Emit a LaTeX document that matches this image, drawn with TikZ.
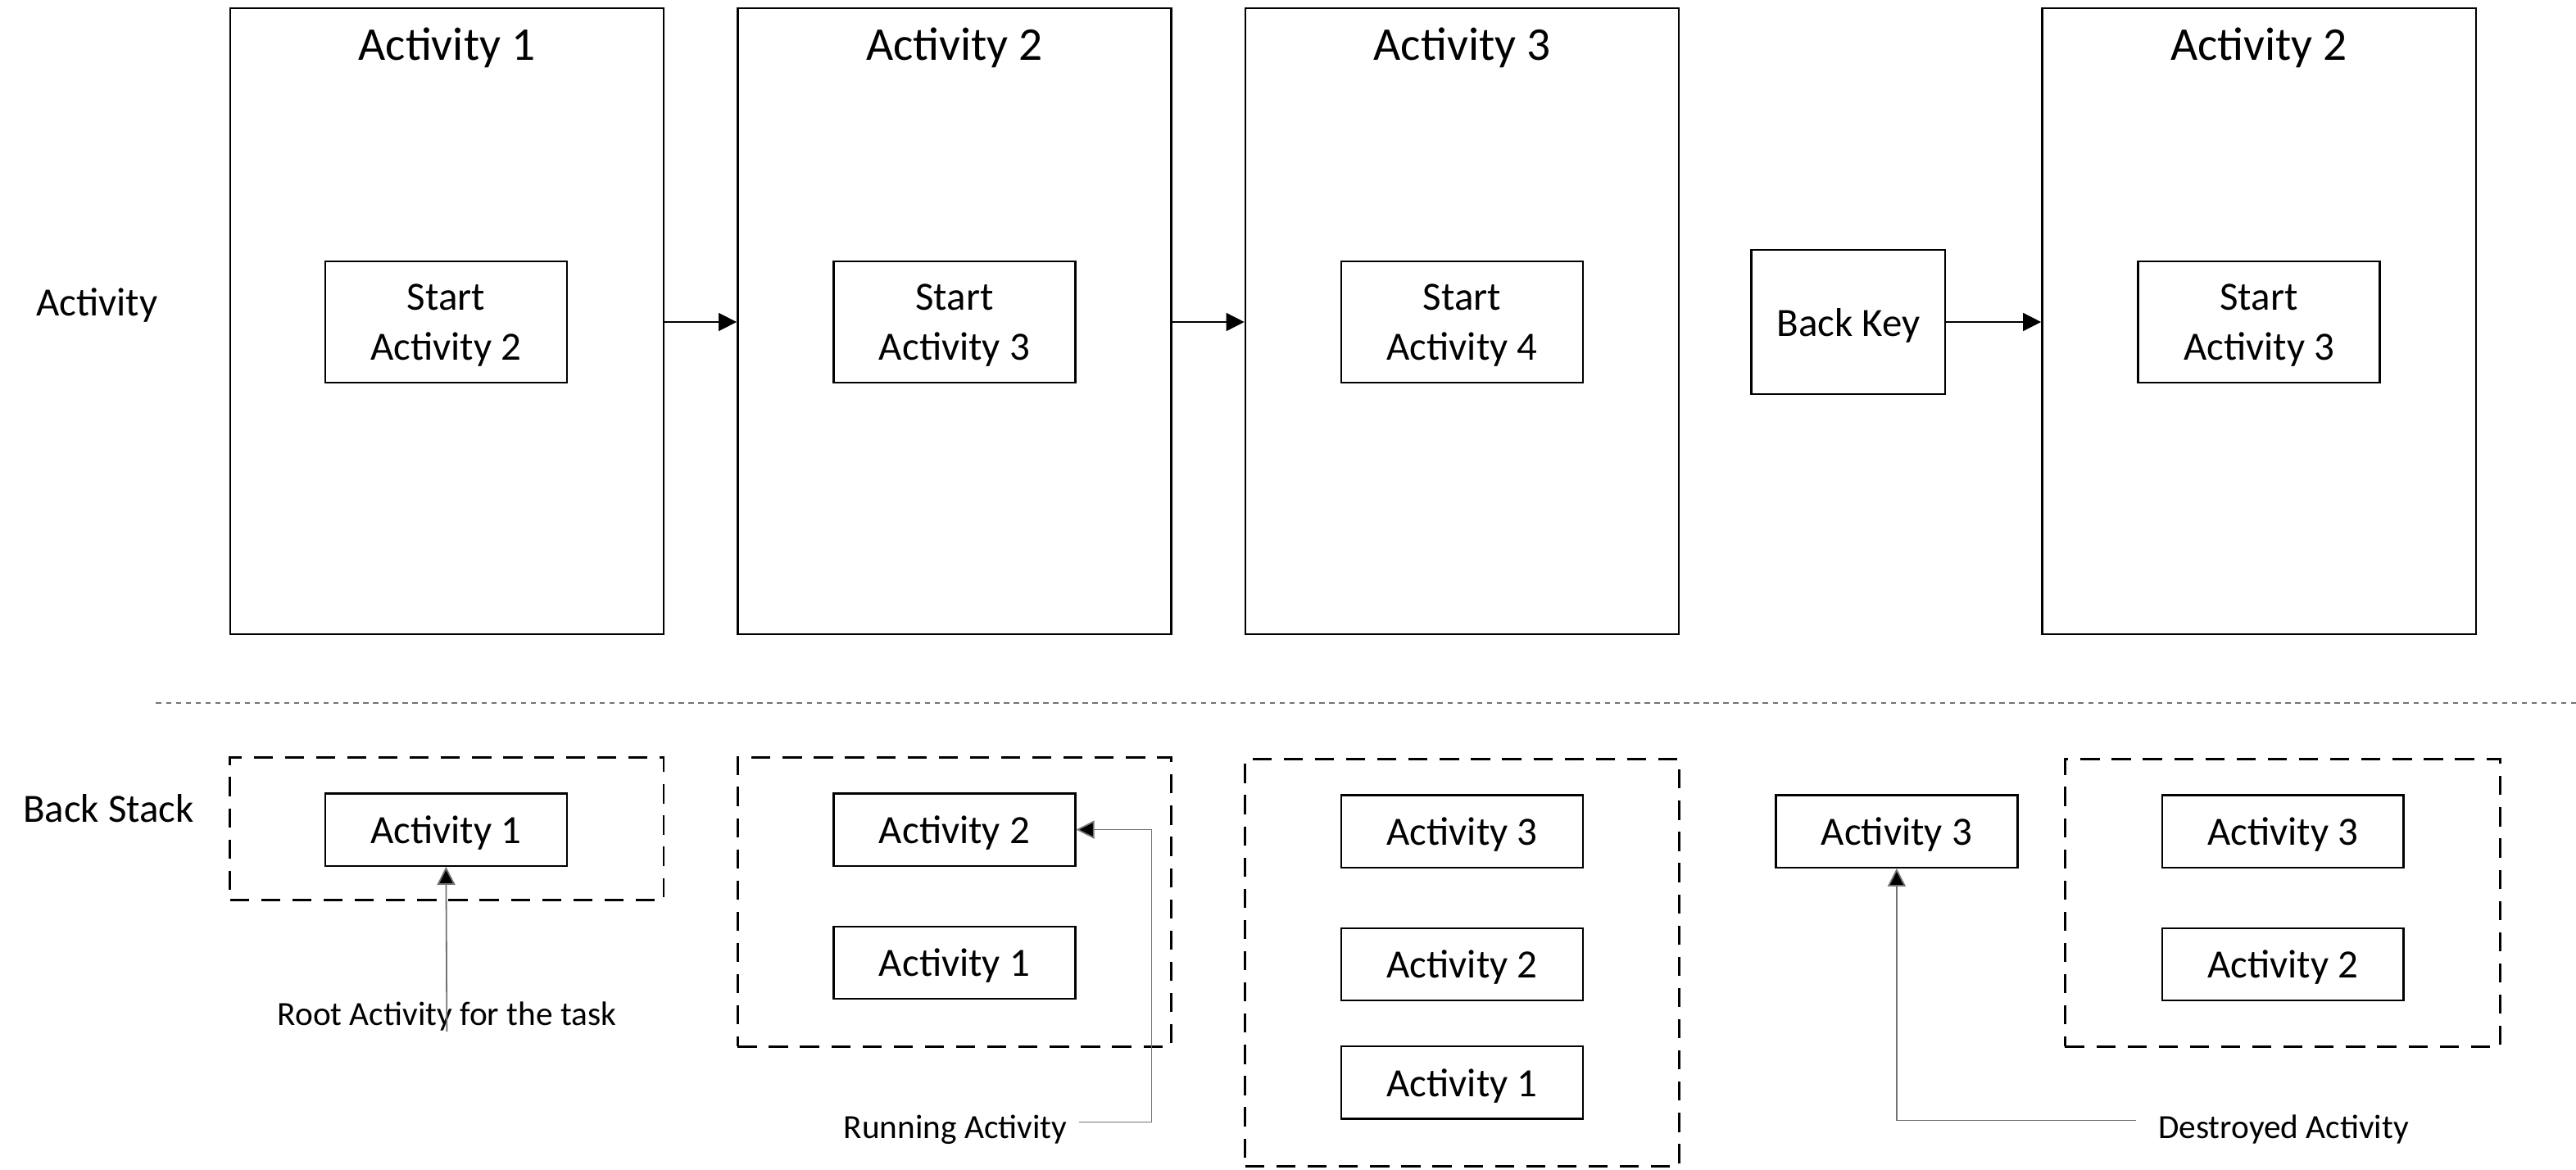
\documentclass[tikz,border=0pt]{standalone}
\usepackage{fontspec}
\setmainfont{Carlito}
\usetikzlibrary{arrows.meta}
\newcommand{\lowr}[1]{\raisebox{-1pt}[\height][\depth]{#1}}
\newcommand{\twoline}[2]{\lowr{\begin{tabular}{@{}c@{}}#1\\#2\end{tabular}}}
\begin{document}
\begin{tikzpicture}[x=0.5pt,y=-0.5pt,
  bigbox/.style={draw,line width=0.6pt,minimum width=132pt,minimum height=190.5pt,inner sep=0pt},
  title/.style={font=\fontsize{14.3}{17}\selectfont,inner sep=0pt},
  startbox/.style={draw,line width=0.6pt,minimum width=73.5pt,minimum height=37pt,inner sep=0pt,font=\fontsize{12.2}{15}\selectfont},
  keybox/.style={draw,line width=0.6pt,minimum width=59pt,minimum height=44pt,inner sep=0pt,font=\fontsize{12.2}{15}\selectfont},
  stackbox/.style={draw,line width=0.7pt,dash pattern=on 5.8pt off 3.7pt,minimum width=132pt,inner sep=0pt},
  actbox/.style={draw,line width=0.6pt,minimum width=73.5pt,minimum height=22pt,inner sep=0pt,font=\fontsize{12.2}{15}\selectfont},
  rowlabel/.style={font=\fontsize{12.2}{15}\selectfont,inner sep=0pt},
  note/.style={font=\fontsize{10.3}{12}\selectfont,inner sep=0pt},
  arr/.style={-{Triangle[length=5.5pt,width=5.5pt]},line width=0.4pt,black},
  garr/.style={-{Triangle[length=5.5pt,width=5.5pt,fill=black]},line width=0.45pt,draw=black!55},
  gline/.style={line width=0.45pt,draw=black!55}]
\useasboundingbox (0,0) rectangle (1568,712);
% row labels
\node[rowlabel] (lblact) at (59,186) {Activity};
\node[rowlabel] (lblstack) at (66,492) {Back Stack};
% big activity boxes
\node[bigbox] (a1) at (272,195.5) {};
\node[bigbox] (a2) at (581,195.5) {};
\node[bigbox] (a3) at (890,195.5) {};
\node[bigbox] (a4) at (1375,195.5) {};
\node[title] (t1) at (272,29) {Activity 1};
\node[title] (t2) at (581,29) {Activity 2};
\node[title] (t3) at (890,29) {Activity 3};
\node[title] (t4) at (1375,29) {Activity 2};
\node[startbox] (s1) at (271.5,196) {\twoline{Start}{Activity 2}};
\node[startbox] (s2) at (581,196) {\twoline{Start}{Activity 3}};
\node[startbox] (s3) at (890,196) {\twoline{Start}{Activity 4}};
\node[startbox] (s4) at (1375,196) {\twoline{Start}{Activity 3}};
\node[keybox] (bk) at (1125,196) {\lowr{Back Key}};
\draw[arr] (s1 -| a1.east) -- (s1 -| a2.west);
\draw[arr] (s2 -| a2.east) -- (s2 -| a3.west);
\draw[arr] (bk.east) -- (bk -| a4.west);
% separator
\coordinate (sepL) at (95,428);
\coordinate (sepR) at (1568,428);
\draw[draw=black!55,line width=0.4pt,dash pattern=on 1.6pt off 1.4pt] (sepL) -- (sepR);
% back stacks
\node[stackbox,minimum height=43.5pt] (d1) at (272,504.5) {};
\node[stackbox,minimum height=88pt] (d2) at (581,549) {};
\node[stackbox,minimum height=124pt] (d3) at (890,586) {};
\node[stackbox,minimum height=87.5pt,minimum width=132.5pt] (d4) at (1389.5,549.5) {};
\node[actbox] (b11) at (271.5,505) {\lowr{Activity 1}};
\node[actbox] (b21) at (581,505) {\lowr{Activity 2}};
\node[actbox] (b22) at (581,586) {\lowr{Activity 1}};
\node[actbox] (b31) at (890,506) {\lowr{Activity 3}};
\node[actbox] (b32) at (890,587) {\lowr{Activity 2}};
\node[actbox] (b33) at (890,659) {\lowr{Activity 1}};
\node[actbox] (bx) at (1154.5,506) {\lowr{Activity 3}};
\node[actbox] (b41) at (1389.5,506) {\lowr{Activity 3}};
\node[actbox] (b42) at (1389.5,587) {\lowr{Activity 2}};
% annotations
\node[note] (root) at (272,618.5) {Root Activity for the task};
\node[note] (run) at (581.5,687.5) {Running Activity};
\node[note] (des) at (1390,687.5) {Destroyed Activity};
\coordinate (rootend) at (272,628);
\draw[garr] (rootend) -- (b11.south);
\coordinate (runstart) at (657,683);
\coordinate (runturn) at (701,683);
\draw[garr] (runstart) -- (runturn) |- (b21.east);
\coordinate (desstart) at (1300,682);
\draw[garr] (desstart) -- (desstart -| bx.south) -- (bx.south);
\end{tikzpicture}
\end{document}
